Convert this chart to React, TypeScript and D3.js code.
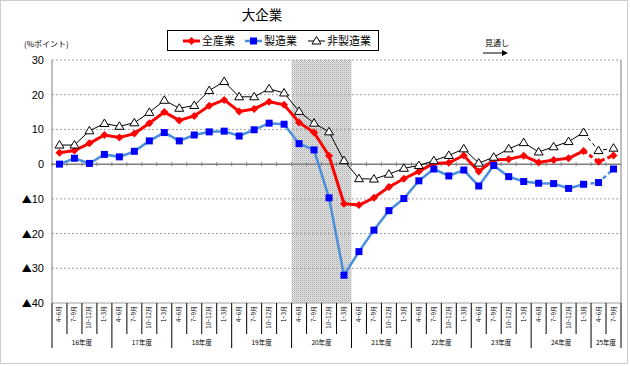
import React from 'react';
import * as d3 from 'd3';

// fiscal years and quarters on the x axis
const years = ['16年度', '17年度', '18年度', '19年度', '20年度', '21年度', '22年度', '23年度', '24年度', '25年度'];
const quarters = ['4~6月', '7~9月', '10~12月', '1~3月'];
const lastYearQuarters = 2; // 25年度 only has 2 (forecast)
const forecastCount = 2;
const shadedYear = '20年度';

const yTicks = [30, 20, 10, 0, -10, -20, -30, -40];

// DI values (% points)
const zensangyo = [3.3, 3.9, 6.0, 8.4, 7.7, 8.8, 11.8, 15.0, 12.6, 13.9, 16.8, 18.5, 15.2, 15.9, 18.0, 17.1,
  12.0, 9.1, 2.4, -11.4, -11.8, -9.7, -6.6, -4.2, -2.1, 0.2, 0.4, 2.5, -2.1, 1.2, 1.4, 2.4,
  0.5, 1.2, 1.7, 3.8, 0.7, 2.5];
const seizo = [0, 1.7, 0.2, 2.8, 2.1, 3.7, 6.7, 9.1, 6.7, 8.4, 9.3, 9.5, 8.1, 9.9, 11.8, 11.5,
  5.9, 4.1, -9.7, -32.0, -25.2, -19.0, -13.4, -9.9, -4.8, -1.4, -3.4, -1.7, -6.3, -0.4, -3.6, -5.0,
  -5.5, -5.6, -7.0, -5.8, -5.3, -1.4];
const hiseizo = [5.5, 5.5, 9.6, 11.7, 10.9, 11.9, 14.9, 18.4, 16.1, 16.9, 21.2, 23.8, 19.4, 19.4, 21.7, 20.5,
  15.2, 11.8, 9.3, 1.0, -4.2, -4.3, -2.9, -1.2, -0.4, 1.0, 2.5, 4.4, 0.3, 2.0, 4.4, 6.2,
  3.5, 5.0, 6.5, 9.1, 3.9, 4.6];

const categories: { key: string; year: string; q: string }[] = [];
years.forEach((y, i) => {
  const qs = i === years.length - 1 ? quarters.slice(0, lastYearQuarters) : quarters;
  qs.forEach(q => categories.push({ key: y + q, year: y, q }));
});

const series = [
  { name: '全産業', values: zensangyo, color: '#ff0000', width: 3, marker: 'diamond' },
  { name: '製造業', values: seizo, color: '#4a8fdc', width: 2.5, marker: 'square' },
  { name: '非製造業', values: hiseizo, color: '#000000', width: 1, marker: 'triangle' },
];

const jp = '"Noto Sans CJK JP", sans-serif';
const num = '"Liberation Sans", Arial, sans-serif';

const Marker = ({ type, x, y }: { type: string; x: number; y: number }) => {
  if (type === 'diamond') {
    return <path d={`M${x},${y - 4}L${x + 4},${y}L${x},${y + 4}L${x - 4},${y}Z`} fill="#ff0000" />;
  }
  if (type === 'square') {
    return <rect x={x - 3.5} y={y - 3.5} width={7} height={7} fill="#0000ff" />;
  }
  return <path d={`M${x},${y - 4.5}L${x + 4.5},${y + 3}L${x - 4.5},${y + 3}Z`} fill="#fff" stroke="#000" strokeWidth={1} />;
};

export default function App() {
  const W = 630, H = 366;
  const x = d3.scaleBand().domain(categories.map(c => c.key)).range([52, 621]).padding(0);
  const y = d3.scaleLinear().domain([-40, 30]).range([303, 60]);
  const cx = (i: number) => (x(categories[i].key) as number) + x.bandwidth() / 2;
  const line = d3.line<number>().x((_, i) => cx(i)).y(v => y(v));
  const nSolid = categories.length - forecastCount;

  const shadeIdx = categories.map((c, i) => (c.year === shadedYear ? i : -1)).filter(i => i >= 0);
  const shadeX0 = x(categories[shadeIdx[0]].key) as number;
  const shadeX1 = (x(categories[shadeIdx[shadeIdx.length - 1]].key) as number) + x.bandwidth();

  const yearGroups = years.map(yr => {
    const idx = categories.map((c, i) => (c.year === yr ? i : -1)).filter(i => i >= 0);
    const x0 = x(categories[idx[0]].key) as number;
    const x1 = (x(categories[idx[idx.length - 1]].key) as number) + x.bandwidth();
    return { yr, x0, x1 };
  });

  return (
    <svg width={W} height={H} style={{ position: 'absolute', left: 0, top: 0, background: '#fff' }}>
      <defs>
        <pattern id="dots" width={2} height={2} patternUnits="userSpaceOnUse">
          <rect width={2} height={2} fill="#e6e6e6" />
          <rect width={1} height={1} fill="#a8a8a8" />
          <rect x={1} y={1} width={1} height={1} fill="#c8c8c8" />
        </pattern>
      </defs>
      <rect x={0.5} y={0.5} width={W - 3} height={H - 3} fill="#fff" stroke="#999" strokeDasharray="1,1" />

      <text x={262} y={20} textAnchor="middle" fontFamily={jp} fontSize={13.5}>大企業</text>
      <text x={24} y={47} fontFamily={jp} fontSize={8}>(%ポイント)</text>
      <text x={485} y={46} fontFamily={jp} fontSize={8}>見通し</text>
      <line x1={483} y1={53} x2={503} y2={53} stroke="#000" strokeWidth={1} />
      <path d="M502,50L508,53L502,56Z" fill="#000" />

      {/* shaded period */}
      <rect x={shadeX0} y={60} width={shadeX1 - shadeX0} height={243} fill="url(#dots)" />

      {/* gridlines */}
      {yTicks.map(t => (
        <line key={t} x1={52} x2={621} y1={y(t)} y2={y(t)}
          stroke={t === 0 ? '#808080' : '#a0a0a0'} strokeWidth={t === 0 ? 1.5 : 1}
          strokeDasharray={t === 0 || t === -40 ? undefined : '2,2'} />
      ))}
      <line x1={52} x2={52} y1={60} y2={303} stroke="#808080" />
      <line x1={621} x2={621} y1={60} y2={303} stroke="#808080" />
      {categories.map((c, i) => (
        <line key={c.key} x1={x(c.key) as number} x2={x(c.key) as number} y1={y(0) - 2} y2={y(0) + 2} stroke="#808080" />
      ))}
      {yTicks.map(t => (
        <text key={t} x={44} y={y(t) + 4} textAnchor="end" fontFamily={num} fontSize={11}>
          {t < 0 ? <><tspan fontFamily={jp} fontSize={10}>▲</tspan>{-t}</> : t}
        </text>
      ))}

      {/* x axis labels */}
      {categories.map((c, i) => {
        const x0 = x(c.key) as number;
        const isYearStart = c.q === quarters[0];
        return (
          <g key={c.key}>
            <line x1={x0} x2={x0} y1={303} y2={isYearStart ? 348 : 334} stroke="#000" />
            <text transform={`translate(${cx(i) + 2},306) rotate(-90)`} textAnchor="end"
              fontFamily={jp} fontSize={6}>{c.q}</text>
          </g>
        );
      })}
      <line x1={621} x2={621} y1={303} y2={348} stroke="#000" />
      {yearGroups.map(g => (
        <text key={g.yr} x={(g.x0 + g.x1) / 2} y={345} textAnchor="middle" fontFamily={jp} fontSize={6.5}>{g.yr}</text>
      ))}

      {/* series */}
      {series.map(s => (
        <g key={s.name}>
          <path d={line(s.values.slice(0, nSolid)) || ''} fill="none" stroke={s.color} strokeWidth={s.width} />
          <path d={(d3.line<number>().x((_, i) => cx(i + nSolid - 1)).y(v => y(v)))(s.values.slice(nSolid - 1)) || ''}
            fill="none" stroke={s.color} strokeWidth={s.width} strokeDasharray="4,3" />
          {s.values.map((v, i) => <Marker key={i} type={s.marker} x={cx(i)} y={y(v)} />)}
        </g>
      ))}

      {/* legend */}
      <rect x={167.5} y={30.5} width={211} height={20} fill="#fff" stroke="#000" />
      {series.map((s, i) => {
        const lx = [183, 245, 308][i];
        return (
          <g key={s.name}>
            <line x1={lx} x2={lx + 17} y1={41} y2={41} stroke={s.color} strokeWidth={s.width} />
            <Marker type={s.marker} x={lx + 8.5} y={41} />
            <text x={lx + 19} y={45} fontFamily={jp} fontSize={11}>{s.name}</text>
          </g>
        );
      })}
    </svg>
  );
}
